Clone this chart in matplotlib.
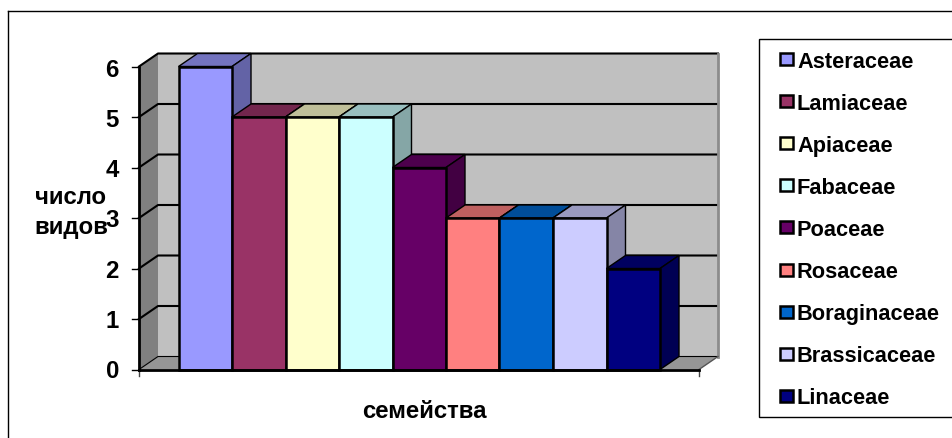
import matplotlib
matplotlib.use('Agg')
import matplotlib.pyplot as plt
from matplotlib.colors import to_rgb
from matplotlib.patches import Rectangle

families = ['Asteraceae', 'Lamiaceae', 'Apiaceae', 'Fabaceae', 'Poaceae',
            'Rosaceae', 'Boraginaceae', 'Brassicaceae', 'Linaceae']
counts = [6, 5, 5, 5, 4, 3, 3, 3, 2]
colors = ['#9999FF', '#993366', '#FFFFCC', '#CCFFFF', '#660066',
          '#FF8080', '#0066CC', '#CCCCFF', '#000080']
y_ticks = [0, 1, 2, 3, 4, 5, 6]

W, H = 953, 439
X0, UX = 178.5, 53.5   # pixel of category 0, pixels per category
Y0, UY = 370.5, 50.5   # pixel of value 0, pixels per unit
DX, DY = 19 / UX, 13 / UY  # 3d depth in data units
LEFT, RIGHT = (139 - X0) / UX, (699 - X0) / UX
TOP = 6
FS = 15.7
FS_AXIS = 17.3
TEXT_SHIFT = 2 / UY  # text centre sits a little lower than the box centre

plt.rcParams['font.family'] = ['Liberation Sans', 'DejaVu Sans']
plt.rcParams['font.weight'] = 'bold'

fig = plt.figure(figsize=(W / 100, H / 100), dpi=100)
ax = fig.add_axes([0, 0, 1, 1])
ax.set_xlim(-X0 / UX, (W - X0) / UX)
ax.set_ylim((Y0 - H) / UY, Y0 / UY)
ax.axis('off')


def shade(c, k):
    return tuple(v * k for v in to_rgb(c))


def poly(xs, ys, color, ec='black', lw=1.0, z=2):
    ax.fill(xs, ys, facecolor=color, edgecolor=ec, lw=lw, zorder=z, joinstyle='miter')


# outer frame of the chart, cut off on the right and bottom
ax.plot([(8 - X0) / UX, (8 - X0) / UX], [(Y0 - H) / UY, (Y0 - 12) / UY], color='black', lw=1, zorder=1)
ax.plot([(8 - X0) / UX, (W - X0) / UX], [(Y0 - 12) / UY] * 2, color='black', lw=1, zorder=1)

# walls and floor
poly([LEFT + DX, RIGHT + DX, RIGHT + DX, LEFT + DX], [DY, DY, TOP + DY, TOP + DY], '#C0C0C0', ec='none')
poly([LEFT, LEFT + DX, LEFT + DX, LEFT], [0, DY, TOP + DY, TOP], '#808080', ec='none')
poly([LEFT, LEFT + DX, RIGHT + DX, RIGHT], [0, DY, DY, 0], '#969696', ec='none')

# gridlines
for v in y_ticks:
    lw = 0.8 if v == 0 else 1.5
    ax.plot([LEFT, LEFT + DX, RIGHT + DX], [v, v + DY, v + DY], color='black', lw=lw, zorder=2)
ax.plot([RIGHT + DX, RIGHT + DX], [DY, TOP + DY], color='#8C8C8C', lw=2, zorder=2)
ax.plot([RIGHT, RIGHT + DX], [0, DY], color='#555555', lw=1, zorder=2)

# bars, left to right so that each one covers the side of the one before
for i, (v, c) in enumerate(zip(counts, colors)):
    poly([i, i + DX, i + 1 + DX, i + 1], [v, v + DY, v + DY, v], shade(c, 0.75), z=3 + i)
    poly([i + 1, i + 1 + DX, i + 1 + DX, i + 1], [0, DY, v + DY, v], shade(c, 0.65), z=3 + i)
    ax.bar(i + 0.5, v, width=1, color=c, edgecolor='black', lw=1.8, zorder=3 + i)

# axes lines and ticks
ax.plot([LEFT, LEFT], [0, TOP], color='black', lw=2, zorder=20)
ax.plot([LEFT, RIGHT], [0, 0], color='black', lw=2, zorder=20)
tick = 7 / UX
for v in y_ticks:
    ax.plot([LEFT - tick, LEFT], [v, v], color='black', lw=1, zorder=20)
    ax.text((119 - X0) / UX, v - TEXT_SHIFT * (0.5 + v / 6), str(v), fontsize=FS_AXIS, ha='right', va='center', zorder=30)
for x in [LEFT, RIGHT]:
    ax.plot([x, x], [0, -6 / UY], color='#444444', lw=1, zorder=1)

# axis titles
ax.text((71 - X0) / UX, (Y0 - 196) / UY - TEXT_SHIFT, 'число', fontsize=FS_AXIS, ha='center', va='center', zorder=30)
ax.text((71 - X0) / UX, (Y0 - 226) / UY - TEXT_SHIFT, 'видов', fontsize=FS_AXIS, ha='center', va='center', zorder=30)
ax.text((424 - X0) / UX, (Y0 - 410) / UY - TEXT_SHIFT, 'семейства', fontsize=FS_AXIS, ha='center', va='center', zorder=30)

# legend
lx = (759 - X0) / UX
ly0, ly1 = (Y0 - 418) / UY, (Y0 - 39.5) / UY
ax.add_patch(Rectangle((lx, ly0), (W + 10 - 759) / UX, ly1 - ly0, fc='white', ec='black', lw=1, zorder=25, clip_on=True))
for k, (name, c) in enumerate(zip(families, colors)):
    py = 60 + k * 42.1
    ax.add_patch(Rectangle(((780 - X0) / UX, (Y0 - py - 6) / UY), 13 / UX, 12 / UY,
                           fc=c, ec='black', lw=1.8, zorder=26))
    ax.text((797 - X0) / UX, (Y0 - py) / UY - TEXT_SHIFT, name, fontsize=FS, ha='left', va='center', zorder=30)

fig.savefig('out.png', dpi=100, facecolor='white')
plt.close(fig)
